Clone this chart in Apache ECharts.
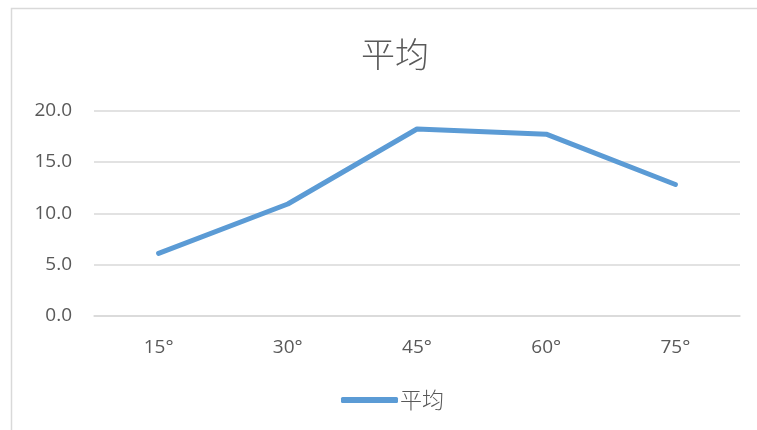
<!DOCTYPE html>
<html>
<head>
<meta charset="utf-8">
<script src="https://cdn.jsdelivr.net/npm/echarts@6/dist/echarts.min.js"></script>
<style>
  html, body { margin: 0; padding: 0; background: #fff; }
  #chart { width: 757px; height: 430px; }
</style>
</head>
<body>
<div id="chart"></div>
<script>
const categories = ['15°', '30°', '45°', '60°', '75°']
const avgValues = [6.1, 10.9, 18.2, 17.7, 12.8]
const seriesName = '平均'

const font = '"Open Sans", "Noto Sans CJK SC", sans-serif'
const chart = echarts.init(document.getElementById('chart'))

chart.setOption({
  animation: false,
  backgroundColor: '#fff',
  color: ['#5B9BD5'],
  graphic: [
    {
      type: 'rect',
      shape: { x: 11.5, y: 8.5, width: 800, height: 500 },
      style: { fill: 'none', stroke: '#d9d9d9', lineWidth: 1.5 },
      silent: true,
    },
  ],
  title: {
    text: seriesName,
    left: 390,
    top: 32,
    textAlign: 'center',
    textStyle: {
      color: '#595959',
      fontSize: 34,
      fontWeight: 300,
      fontFamily: '"Noto Sans CJK SC", sans-serif',
    },
  },
  legend: {
    top: 384,
    left: 336,
    data: [{ name: seriesName, icon: 'roundRect' }],
    itemWidth: 57,
    itemHeight: 6,
    itemGap: 4,
    textStyle: {
      color: '#595959',
      fontSize: 22,
      fontWeight: 300,
      fontFamily: '"Noto Sans CJK SC", sans-serif',
      padding: [0, 0, 0, -3],
    },
  },
  grid: {
    left: 94,
    right: 17,
    top: 110.5,
    bottom: 114,
    containLabel: false,
  },
  xAxis: {
    type: 'category',
    data: categories,
    boundaryGap: true,
    axisLine: { show: true, lineStyle: { color: '#d9d9d9', width: 1.5 } },
    axisTick: { show: false },
    axisLabel: {
      color: '#595959',
      fontSize: 19,
      fontFamily: font,
      margin: 22,
    },
  },
  yAxis: {
    type: 'value',
    min: 0,
    max: 20,
    interval: 5,
    axisLine: { show: false },
    axisTick: { show: false },
    axisLabel: {
      color: '#595959',
      fontSize: 19,
      fontFamily: font,
      margin: 22,
      formatter: v => v.toFixed(1),
    },
    splitLine: { lineStyle: { color: '#d9d9d9', width: 1.5 } },
  },
  series: [
    {
      name: seriesName,
      type: 'line',
      data: avgValues,
      symbol: 'none',
      lineStyle: { width: 5, cap: 'round', join: 'round' },
    },
  ],
})
</script>
</body>
</html>
